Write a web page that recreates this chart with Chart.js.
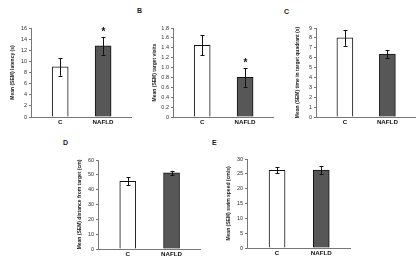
<!DOCTYPE html>
<html>
<head>
<meta charset="utf-8">
<script src="https://cdn.jsdelivr.net/npm/chart.js@4"></script>
<style>
  body { margin: 0; background: #fff; width: 419px; height: 267px; position: relative; overflow: hidden; font-family: "Liberation Sans", Arial, sans-serif; }
  canvas { position: absolute; }
  .tag { position: absolute; font-weight: bold; font-size: 7px; color: #222; }
</style>
</head>
<body>
<div class="tag" style="left:137px;top:7px">B</div>
<div class="tag" style="left:284px;top:8px">C</div>
<div class="tag" style="left:63px;top:139px">D</div>
<div class="tag" style="left:212px;top:139px">E</div>
<canvas id="a" width="123" height="107" style="left:10px;top:22px"></canvas>
<canvas id="b" width="123" height="107" style="left:152px;top:22px"></canvas>
<canvas id="c" width="122" height="107" style="left:295px;top:22px"></canvas>
<canvas id="d" width="125" height="107" style="left:77px;top:154px"></canvas>
<canvas id="e" width="126" height="107" style="left:226px;top:153px"></canvas>
<script>
const groups = ['C', 'NAFLD'];

const latency = [9.0, 12.8];
const latencySem = [1.6, 1.6];
const latencySig = [false, true];

const visits = [1.45, 0.80];
const visitsSem = [0.2, 0.19];
const visitsSig = [false, true];

const quadrant = [8.0, 6.37];
const quadrantSem = [0.8, 0.4];

const distance = [45.7, 51.3];
const distanceSem = [2.8, 1.4];

const speed = [26.2, 26.3];
const speedSem = [1.0, 1.35];

const FONT = '"Liberation Sans", Arial, sans-serif';

const errorBars = {
    id: 'errorBars',
    afterDatasetsDraw(chart, args, opts) {
        const { ctx, scales: { x, y } } = chart;
        const values = chart.data.datasets[0].data;
        ctx.save();
        ctx.strokeStyle = '#111';
        ctx.lineWidth = 1;
        values.forEach((p, i) => {
            const px = Math.round(x.getPixelForValue(p.x)) + 0.5;
            const top = y.getPixelForValue(p.y + opts.sem[i]);
            const bot = y.getPixelForValue(p.y - opts.sem[i]);
            ctx.beginPath();
            ctx.moveTo(px, top); ctx.lineTo(px, bot);
            ctx.moveTo(px - 2, Math.round(top) + 0.5); ctx.lineTo(px + 2, Math.round(top) + 0.5);
            ctx.moveTo(px - 2, Math.round(bot) + 0.5); ctx.lineTo(px + 2, Math.round(bot) + 0.5);
            ctx.stroke();
            if (opts.sig && opts.sig[i]) {
                ctx.fillStyle = '#111';
                ctx.font = 'bold 10px ' + FONT;
                ctx.textAlign = 'center';
                ctx.textBaseline = 'middle';
                ctx.fillText('*', px, top - 5);
            }
        });
        ctx.restore();
    }
};

function makePanel(id, values, sem, sig, max, step, title, fmt) {
    new Chart(document.getElementById(id), {
        type: 'bar',
        data: {
            datasets: [{
                data: values.map((v, i) => ({ x: i, y: v })),
                backgroundColor: ['#ffffff', '#575757'],
                borderColor: '#111',
                borderWidth: 1,
                borderSkipped: 'bottom',
                barThickness: 16
            }]
        },
        plugins: [errorBars],
        options: {
            responsive: false,
            animation: false,
            events: [],
            layout: { padding: { top: 6, right: 2, left: 0, bottom: 0 } },
            plugins: {
                legend: { display: false },
                tooltip: { enabled: false },
                errorBars: { sem: sem, sig: sig }
            },
            scales: {
                x: {
                    type: 'linear',
                    min: -0.68,
                    max: 1.65,
                    offset: false,
                    afterBuildTicks: (axis) => { axis.ticks = groups.map((g, i) => ({ value: i })); },
                    afterFit: (axis) => { axis.height = 12; },
                    grid: { display: false, drawTicks: false, tickLength: 0 },
                    border: { display: true, color: '#777', width: 1 },
                    ticks: {
                        callback: (v) => groups[v],
                        color: '#111',
                        padding: 2,
                        maxRotation: 0,
                        autoSkip: false,
                        font: { family: FONT, size: 6.2, weight: 'bold' }
                    }
                },
                y: {
                    min: 0,
                    max: max,
                    afterFit: (axis) => { axis.width = 21; },
                    grid: { display: true, drawOnChartArea: false, drawTicks: true, tickLength: 2, color: '#777' },
                    border: { display: true, color: '#777', width: 1 },
                    ticks: {
                        stepSize: step,
                        padding: 2,
                        color: '#333',
                        callback: fmt || ((v) => v),
                        font: { family: FONT, size: 5.5 }
                    },
                    title: {
                        display: true,
                        text: title,
                        color: '#222',
                        padding: 0,
                        font: { family: FONT, size: 5, weight: 'bold' }
                    }
                }
            }
        }
    });
}

makePanel('a', latency, latencySem, latencySig, 16, 2, 'Mean (SEM) latency (s)');
makePanel('b', visits, visitsSem, visitsSig, 1.8, 0.2, 'Mean (SEM) target visits',
    (v) => v === 0 ? '0' : v.toFixed(1));
makePanel('c', quadrant, quadrantSem, null, 9, 1, 'Mean (SEM) time in target quadrant (s)');
makePanel('d', distance, distanceSem, null, 60, 10, 'Mean (SEM) distance from target (cm)');
makePanel('e', speed, speedSem, null, 30, 5, 'Mean (SEM) swim speed (cm/s)');
</script>
</body>
</html>
